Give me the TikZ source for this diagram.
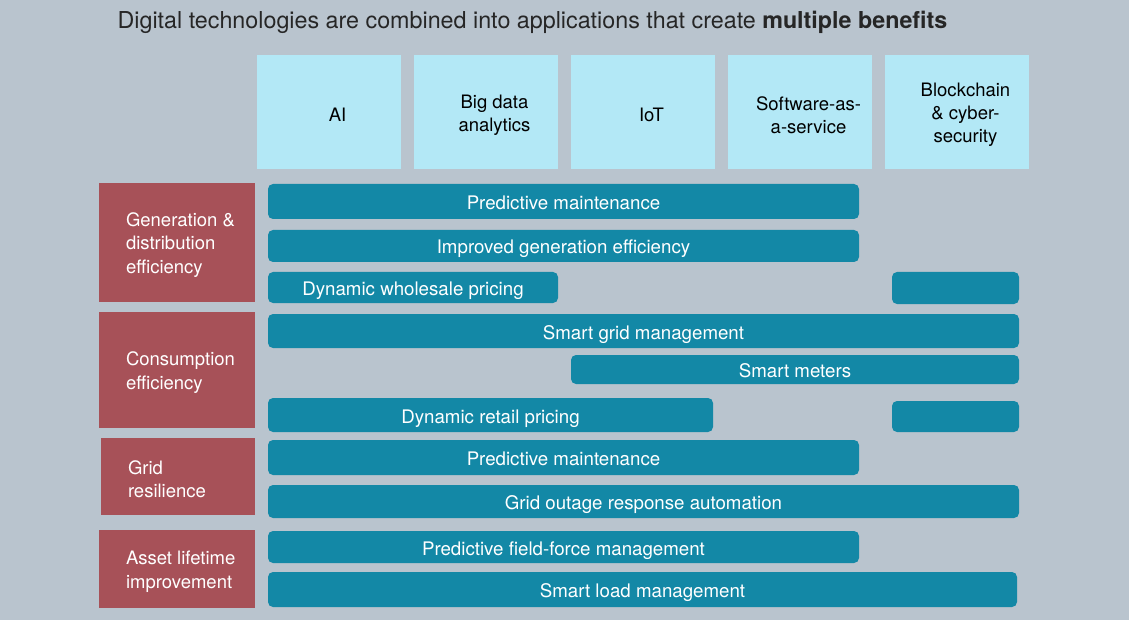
\documentclass[tikz,border=0pt]{standalone}
\usepackage{fontspec}
\setmainfont{TeX Gyre Heros}
\usetikzlibrary{positioning}
\definecolor{bgcol}{HTML}{B9C4CE}
\definecolor{techcol}{HTML}{B3E8F6}
\definecolor{appcol}{HTML}{1388A6}
\definecolor{goalcol}{HTML}{A75158}
\definecolor{titlecol}{HTML}{262626}
\begin{document}
\begin{tikzpicture}[x=1pt, y=-1pt,
  tech/.style={fill=techcol, minimum width=144pt, minimum height=114pt, inner sep=0pt},
  techtext/.style={align=center, inner sep=0pt, text=black, font=\fontsize{18.5}{23}\selectfont},
  goal/.style={fill=goalcol, minimum width=156pt, inner sep=0pt},
  goaltext/.style={text=white, align=left, inner sep=0pt, yshift=-2.5pt,
    font=\fontsize{18.5}{23.5}\selectfont},
  app/.style={fill=appcol, rounded corners=5pt, inner sep=0pt, text=white,
    text height=16pt, text depth=0pt, font=\fontsize{18.7}{22}\selectfont}]
\fill[bgcol] (0,0) rectangle (1129,620);
\useasboundingbox (0,0) rectangle (1129,620);
\node[text=titlecol, anchor=base, inner sep=0pt, font=\fontsize{23.3}{27}\selectfont] (title) at (532.5,29)
  {Digital technologies are combined into applications that create \textbf{multiple benefits}};
% technologies
\foreach \t [count=\i] in {AI, {Big data\\analytics}, IoT, {Software-as-\\a-service}, {Blockchain\\\& cyber-\\security}} {
  \node[tech] (T\i) at (172+157*\i,112.5) {};
  \node[techtext] (L\i) at ([xshift=8.5pt,yshift=-2.5pt]T\i.center) {\t};
}
% benefits
\node[goal, minimum height=119pt] (gen) at (177,242.5) {};
\node[goaltext, right=27pt of gen.west] (gentext) {Generation \&\\distribution\\efficiency};
\node[goal, minimum height=116pt] (cons) at (177,370) {};
\node[goaltext, right=27pt of cons.west] (constext) {Consumption\\efficiency};
\node[goal, minimum width=154pt, minimum height=77pt] (grid) at (178,476.5) {};
\node[goaltext, right=27pt of grid.west] (gridtext) {Grid\\resilience};
\node[goal, minimum height=78pt] (asset) at (177,569) {};
\node[goaltext, right=27pt of asset.west] (assettext) {Asset lifetime\\improvement};
% applications
\foreach \n/\cx/\cy/\w/\h/\t in {
  pmA/563.5/201.5/591/35/Predictive maintenance,
  ige/563.5/246/591/32/Improved generation efficiency,
  dwp/413/287.5/290/31/Dynamic wholesale pricing,
  bcA/955.5/288/127/32/{},
  sgm/643.5/331/751/34/Smart grid management,
  sm/795/369.5/448/29/Smart meters,
  drp/490.5/415/445/34/Dynamic retail pricing,
  bcB/955.5/416.5/127/31/{},
  pmB/563.5/457.5/591/35/Predictive maintenance,
  gor/643.5/501.5/751/33/Grid outage response automation,
  pff/563.5/547/591/32/Predictive field-force management,
  slm/642.5/589.5/749/35/Smart load management} {
  \node[app, minimum width=\w pt, minimum height=\h pt] (\n) at (\cx,\cy) {\t};
}
\end{tikzpicture}
\end{document}
